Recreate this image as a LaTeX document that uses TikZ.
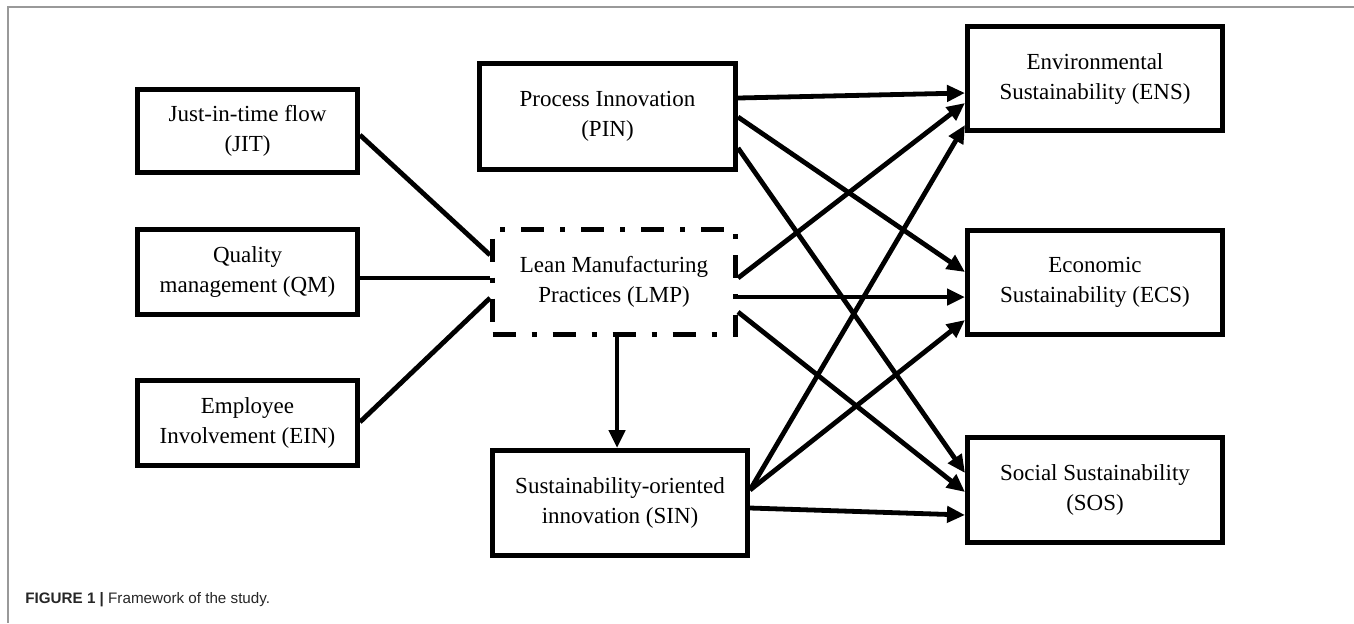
\documentclass[tikz,border=0pt]{standalone}
\usepackage{fontspec}
\setmainfont{Liberation Serif}
\newfontfamily\capfont{Liberation Sans}
\usetikzlibrary{arrows.meta}
\tikzset{
  varbox/.style={draw, line width=2.5pt, align=center, inner sep=0pt, font=\fontsize{11.5}{15}\selectfont},
  link/.style={line width=2.4pt},
  arrowlink/.style={line width=2.4pt, -{Triangle[length=9pt,width=8pt]}},
}
\begin{document}
\begin{tikzpicture}[x=0.5pt,y=-0.5pt]
\useasboundingbox (0,0) rectangle (1354,623);
\draw[gray!80, line width=0.75pt] (1354,7) -- (8,7) -- (8,623);
% lean practices
\node[varbox, minimum width=110pt, minimum height=41.5pt] (jit) at (247.5,131) {Just-in-time flow\\(JIT)};
\node[varbox, minimum width=110pt, minimum height=42.5pt] (qm) at (247.5,272) {Quality\\management (QM)};
\node[varbox, minimum width=110pt, minimum height=42.5pt] (ein) at (247.5,423) {Employee\\Involvement (EIN)};
% middle column
\node[varbox, minimum width=128pt, minimum height=53pt] (pin) at (607.5,116.5) {Process Innovation\\(PIN)};
\node[varbox, dash pattern=on 11.5pt off 8pt on 2.5pt off 8pt, minimum width=121.5pt, minimum height=52.5pt] (lmp) at (614,282) {Lean Manufacturing\\Practices (LMP)};
\node[varbox, minimum width=127.5pt, minimum height=52.5pt] (sin) at (620,503) {Sustainability-oriented\\innovation (SIN)};
% outcomes
\node[varbox, minimum width=127.5pt, minimum height=52pt] (ens) at (1095,78.5) {Environmental\\Sustainability (ENS)};
\node[varbox, minimum width=127.5pt, minimum height=52pt] (ecs) at (1095,282.5) {Economic\\Sustainability (ECS)};
\node[varbox, minimum width=127.5pt, minimum height=52.5pt] (sos) at (1095,490) {Social Sustainability\\(SOS)};
\draw[link] (jit.east |- 0,135) -- (lmp.west |- 0,255);
\draw[link] (qm.east |- 0,278) -- (lmp.west |- 0,278);
\draw[link] (ein.east |- 0,422) -- (lmp.west |- 0,298);
\draw[arrowlink] (lmp.south -| 617,0) -- (sin.north -| 617,0);
\foreach \src/\ys/\dst/\yd in {pin/98/ens/93, pin/117/ecs/272, pin/148/sos/473,
  lmp/278/ens/103, lmp/297/ecs/297, lmp/312/sos/492,
  sin/490/ens/125, sin/490/ecs/320, sin/508/sos/515} {
\draw[arrowlink] (\src.east |- 0,\ys) -- (\dst.west |- 0,\yd);
}
\node[anchor=base west, inner sep=0pt, font=\capfont\fontsize{7.6}{10}\selectfont, text=black!85] (caption) at (25,603) {\textbf{FIGURE 1 |} Framework of the study.};
\end{tikzpicture}
\end{document}
